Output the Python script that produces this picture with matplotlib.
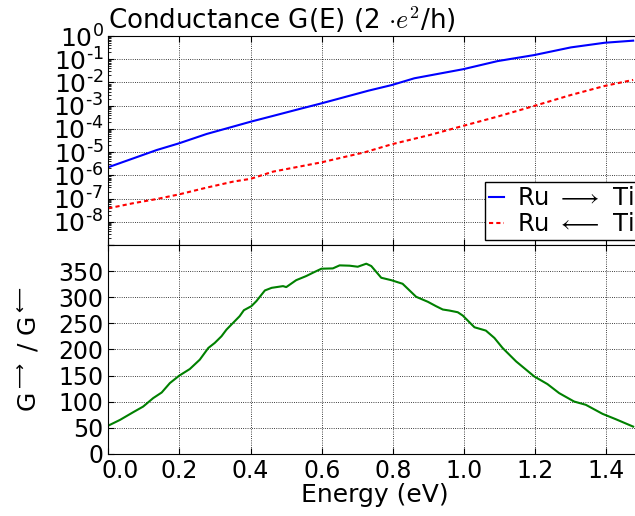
import numpy as np
import matplotlib
matplotlib.use('Agg')
import matplotlib.pyplot as plt
import matplotlib.ticker as mticker
import matplotlib.transforms as mtransforms

# top panel: log10 of conductance
energy_fwd = [0.0, 0.07, 0.136, 0.199, 0.276, 0.351, 0.40, 0.463, 0.538, 0.599,
              0.669, 0.732, 0.797, 0.86, 0.997, 1.094, 1.197, 1.30, 1.395, 1.475]
log_g_fwd = [-5.65, -5.27, -4.91, -4.62, -4.22, -3.90, -3.69, -3.44, -3.14, -2.90,
             -2.61, -2.35, -2.11, -1.82, -1.43, -1.08, -0.82, -0.49, -0.29, -0.20]

energy_bwd = [0.0, 0.07, 0.136, 0.199, 0.276, 0.351, 0.40, 0.463, 0.538, 0.599,
              0.669, 0.72, 0.797, 0.904, 0.997, 1.094, 1.197, 1.30, 1.395, 1.475]
log_g_bwd = [-7.42, -7.20, -7.02, -6.82, -6.53, -6.27, -6.15, -5.84, -5.62, -5.44,
             -5.19, -5.01, -4.66, -4.26, -3.87, -3.47, -3.01, -2.54, -2.15, -1.89]

# bottom panel: ratio G-> / G<-
energy_ratio = [0.0, 0.033, 0.07, 0.098, 0.126, 0.15, 0.173, 0.199, 0.229, 0.257,
                0.281, 0.299, 0.318, 0.332, 0.369, 0.381, 0.402, 0.416, 0.44, 0.459,
                0.491, 0.50, 0.528, 0.556, 0.575, 0.599, 0.631, 0.65, 0.678, 0.701,
                0.725, 0.739, 0.767, 0.795, 0.827, 0.865, 0.898, 0.921, 0.94, 0.958,
                0.982, 0.996, 1.029, 1.061, 1.085, 1.108, 1.146, 1.197, 1.234, 1.267,
                1.309, 1.342, 1.389, 1.426, 1.475]
ratio = [54.3, 65.3, 80.0, 90.8, 106.9, 117.7, 135.7, 149.8, 162.6, 180.5,
         202.9, 212.5, 225.3, 238.0, 263.7, 275.2, 282.9, 292.5, 313.0, 318.0,
         321.3, 319.4, 332.7, 340.5, 346.9, 354.6, 355.2, 361.0, 360.4, 358.4,
         364.2, 359.7, 337.3, 332.7, 325.8, 300.9, 291.3, 282.9, 276.5, 274.6,
         271.3, 265.0, 242.5, 236.2, 222.1, 202.9, 177.2, 148.4, 133.8, 116.5,
         100.4, 94.1, 76.8, 66.6, 52.4]

decades = list(range(-9, 1))
x_ticks = [0.0, 0.2, 0.4, 0.6, 0.8, 1.0, 1.2, 1.4]
ratio_ticks = [0, 50, 100, 150, 200, 250, 300, 350, 400]

fig = plt.figure(figsize=(6.35, 5.16), dpi=100)
ax1 = fig.add_axes([0.1706, 0.5252, 0.8405, 0.405])
ax2 = fig.add_axes([0.1706, 0.1202, 0.8405, 0.405], sharex=ax1)

ax1.semilogy(energy_fwd, 10.0 ** np.array(log_g_fwd), color='blue', lw=1.5,
             label=r'Ru $\longrightarrow\,$ Ti')
ax1.semilogy(energy_bwd, 10.0 ** np.array(log_g_bwd), color='red', lw=1.5,
             dashes=[2, 1.5], label=r'Ru $\longleftarrow\,$ Ti')
ax1.set_ylim(1e-9, 1e0)
ax1.set_yticks([10.0 ** k for k in decades])
ax1.set_yticklabels([''] + [r'$10^{\text{%d}}$' % k for k in decades[1:]], fontsize=18)
ax1.yaxis.set_minor_locator(mticker.LogLocator(base=10, subs=np.arange(2, 10), numticks=100))
ax1.yaxis.set_minor_formatter(mticker.NullFormatter())
ax1.set_title(r'Conductance G(E) (2 $\cdot e^2$/h)', loc='left', fontsize=18.8,
              math_fontfamily='cm', pad=5)
leg = ax1.legend(loc='lower right', bbox_to_anchor=(1.0, 0.0), fontsize=17.5,
                 handlelength=0.65, handletextpad=0.5, borderpad=0.15,
                 labelspacing=0.1, borderaxespad=0.2, fancybox=False, framealpha=1)
leg.get_frame().set_edgecolor('black')
for t in leg.get_texts():
    t.set_math_fontfamily('stix')
plt.setp(ax1.get_xticklabels(), visible=False)

ax2.plot(energy_ratio, ratio, color='green', lw=1.5)
ax2.set_ylim(0, 400)
ax2.set_yticks(ratio_ticks)
ax2.set_yticklabels([str(t) for t in ratio_ticks[:-1]] + [''], fontsize=17)
ax2.set_xlim(0, 1.5)
ax2.set_xticks(x_ticks)
ax2.set_xticklabels(['%.1f' % t for t in x_ticks], fontsize=17)
ax2.set_xlabel('Energy (eV)', fontsize=18, labelpad=0)
ax2.set_ylabel(r'G$^{\longrightarrow}$ / G$^{\longleftarrow}$', fontsize=18, labelpad=12)

for ax in (ax1, ax2):
    ax.grid(True, color='black', linestyle=':', linewidth=0.6)
    ax.tick_params(which='both', direction='in', top=True, right=True)
    ax.tick_params(which='major', length=4)
    ax.tick_params(which='minor', length=2)

# first energy label sits a bit to the right in the original
first = ax2.get_xticklabels()[0]
first.set_transform(first.get_transform() + mtransforms.ScaledTranslation(12 / 100, 0, fig.dpi_scale_trans))

fig.savefig('out.png', dpi=100)
